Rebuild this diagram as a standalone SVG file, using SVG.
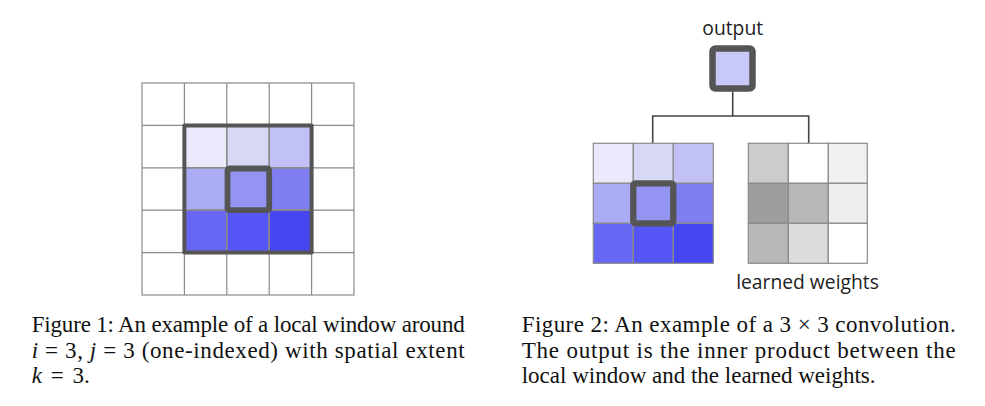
<svg xmlns="http://www.w3.org/2000/svg" width="985" height="406" viewBox="0 0 985 406">
<style>
.g{stroke:#8a8a8a;stroke-width:1.2}
.thick{fill:none;stroke:#555;stroke-linejoin:round}
.lbl{font-family:"Open Sans","DejaVu Sans",sans-serif;font-size:19.3px;fill:#222}
.cap{font-family:"Liberation Serif","Times New Roman",serif;font-size:23px;fill:#111}
.it{font-style:italic}
.conn{fill:none;stroke:#444;stroke-width:1.6}
.c11{fill:#e9e9fb}.c12{fill:#d7d7f6}.c13{fill:#c1c1f6}
.c21{fill:#acacf5}.c22{fill:#9494f3}.c23{fill:#7e7ef1}
.c31{fill:#6767f4}.c32{fill:#5656f6}.c33{fill:#4646f1}
</style>
<rect width="985" height="406" fill="#fff"/>

<g id="figure1-grid">
  <rect x="142" y="83" width="212" height="212" fill="#fff" class="g"/>
  <rect class="c11 g" x="184.4" y="125.4" width="42.4" height="42.4"/>
  <rect class="c12 g" x="226.8" y="125.4" width="42.4" height="42.4"/>
  <rect class="c13 g" x="269.2" y="125.4" width="42.4" height="42.4"/>
  <rect class="c21 g" x="184.4" y="167.8" width="42.4" height="42.4"/>
  <rect class="c22 g" x="226.8" y="167.8" width="42.4" height="42.4"/>
  <rect class="c23 g" x="269.2" y="167.8" width="42.4" height="42.4"/>
  <rect class="c31 g" x="184.4" y="210.2" width="42.4" height="42.4"/>
  <rect class="c32 g" x="226.8" y="210.2" width="42.4" height="42.4"/>
  <rect class="c33 g" x="269.2" y="210.2" width="42.4" height="42.4"/>
  <path class="g" fill="none" d="M184.4 83V295M226.8 83V295M269.2 83V295M311.6 83V295M142 125.4H354M142 167.8H354M142 210.2H354M142 252.6H354"/>
  <rect class="thick" x="184.4" y="125.4" width="127.2" height="127.2" stroke-width="4"/>
  <rect class="thick" x="227.5" y="168.5" width="41.7" height="41.7" stroke-width="5.8" rx="2"/>
</g>

<g id="output-node">
  <text class="lbl" x="732.7" y="35" text-anchor="middle">output</text>
  <rect x="712.5" y="48.5" width="40" height="40" rx="3" fill="#c9c9f9" stroke="#555" stroke-width="6.5"/>
</g>

<g id="connectors">
  <path class="conn" d="M732.7 91.5V116M652.7 143.3V116H808.7V143.3"/>
</g>

<g id="local-window">
  <rect class="c11 g" x="593.3" y="143.3" width="40" height="40"/>
  <rect class="c12 g" x="633.3" y="143.3" width="40" height="40"/>
  <rect class="c13 g" x="673.3" y="143.3" width="40" height="40"/>
  <rect class="c21 g" x="593.3" y="183.3" width="40" height="40"/>
  <rect class="c22 g" x="633.3" y="183.3" width="40" height="40"/>
  <rect class="c23 g" x="673.3" y="183.3" width="40" height="40"/>
  <rect class="c31 g" x="593.3" y="223.3" width="40" height="40"/>
  <rect class="c32 g" x="633.3" y="223.3" width="40" height="40"/>
  <rect class="c33 g" x="673.3" y="223.3" width="40" height="40"/>
  <rect class="thick" x="633.3" y="183.3" width="40" height="40" stroke-width="6.3" rx="2"/>
</g>

<g id="learned-weights">
  <rect class="g" fill="#cccccc" x="748.3" y="143.3" width="40" height="40"/>
  <rect class="g" fill="#ffffff" x="788.3" y="143.3" width="40" height="40"/>
  <rect class="g" fill="#f0f0f0" x="828.3" y="143.3" width="39" height="40"/>
  <rect class="g" fill="#9e9e9e" x="748.3" y="183.3" width="40" height="40"/>
  <rect class="g" fill="#b8b8b8" x="788.3" y="183.3" width="40" height="40"/>
  <rect class="g" fill="#eeeeee" x="828.3" y="183.3" width="39" height="40"/>
  <rect class="g" fill="#b8b8b8" x="748.3" y="223.3" width="40" height="40"/>
  <rect class="g" fill="#dcdcdc" x="788.3" y="223.3" width="40" height="40"/>
  <rect class="g" fill="#ffffff" x="828.3" y="223.3" width="39" height="40"/>
  <text class="lbl" x="807.5" y="288.5" text-anchor="middle">learned weights</text>
</g>

<g id="caption1" class="cap">
  <text x="31.7" y="332" textLength="433" lengthAdjust="spacing">Figure 1: An example of a local window around</text>
  <text x="31.7" y="357.5" textLength="433" lengthAdjust="spacing"><tspan class="it">i</tspan> = 3, <tspan class="it">j</tspan> = 3 (one-indexed) with spatial extent</text>
  <text x="31.7" y="383"><tspan class="it">k</tspan><tspan dx="3"> = </tspan><tspan dx="3">3.</tspan></text>
</g>

<g id="caption2" class="cap">
  <text x="521.7" y="332" textLength="434" lengthAdjust="spacing">Figure 2: An example of a 3 × 3 convolution.</text>
  <text x="521.7" y="357.5" textLength="434" lengthAdjust="spacing">The output is the inner product between the</text>
  <text x="521.7" y="383">local window and the learned weights.</text>
</g>
</svg>
